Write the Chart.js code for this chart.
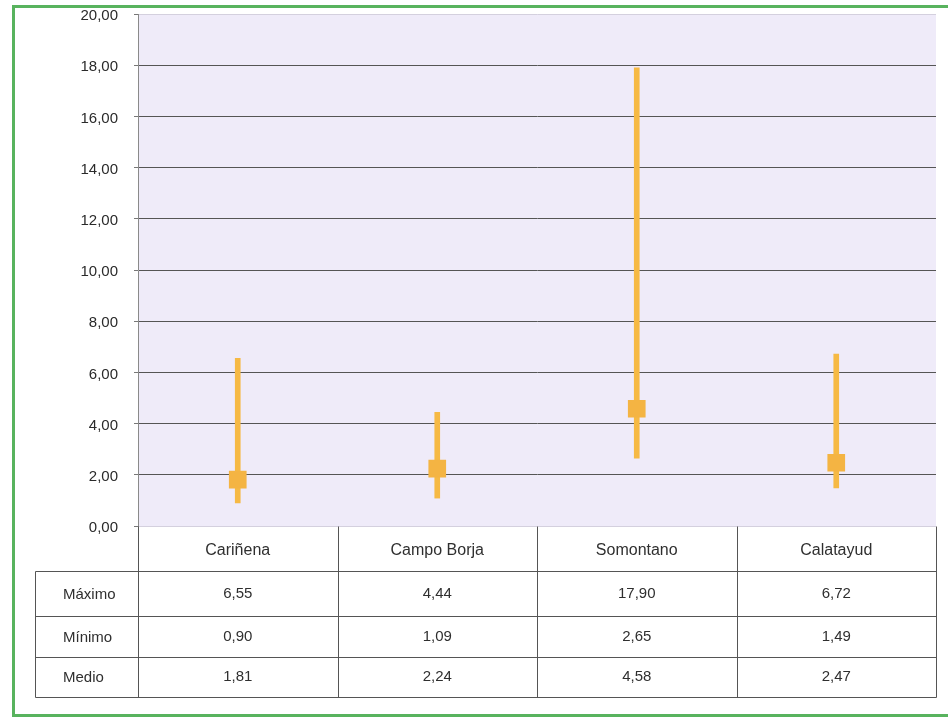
<!DOCTYPE html>
<html>
<head>
<meta charset="utf-8">
<script src="https://cdn.jsdelivr.net/npm/chart.js@4/dist/chart.umd.min.js"></script>
<style>
  html, body { margin: 0; padding: 0; background: #ffffff; overflow: hidden; }
  #frame {
    position: absolute; left: 12px; top: 5px; width: 960px; height: 712px;
    border: 3px solid #58b35e; box-sizing: border-box; pointer-events: none;
  }
  #wrap { position: absolute; left: 0; top: 0; width: 948px; height: 719px; }
</style>
</head>
<body>
<div id="wrap"><canvas id="chart" width="948" height="719"></canvas></div>
<div id="frame"></div>
<script>
// Regions and their values
const categories = ['Cariñena', 'Campo Borja', 'Somontano', 'Calatayud'];
const maximo = [6.55, 4.44, 17.90, 6.72];
const minimo = [0.90, 1.09, 2.65, 1.49];
const medio  = [1.81, 2.24, 4.58, 2.47];
const rowLabels = ['Máximo', 'Mínimo', 'Medio'];
const yTicks = [0, 2, 4, 6, 8, 10, 12, 14, 16, 18, 20];

const FONT = '"Liberation Sans", Arial, sans-serif';
const fmt = v => v.toFixed(2).replace('.', ',');

// Lavender plot background
const plotBackground = {
  id: 'plotBackground',
  beforeDraw(chart) {
    const { ctx, chartArea: a } = chart;
    ctx.save();
    ctx.fillStyle = '#efebf9';
    ctx.fillRect(a.left, a.top, a.right - a.left, a.bottom - a.top);
    ctx.restore();
  }
};

// Data table under the plot, aligned with the category columns
const dataTable = {
  id: 'dataTable',
  afterDraw(chart) {
    const { ctx, chartArea: a } = chart;
    const x = chart.scales.x;
    const n = categories.length;
    const bounds = [];
    for (let i = 0; i <= n; i++) bounds.push(x.getPixelForValue(i - 0.5));
    bounds[0] = a.left; bounds[n] = a.right;
    const labelLeft = 35;
    const headerTop = a.bottom;
    const rows = [571, 616, 657, 697]; // row separators below the header
    ctx.save();
    ctx.strokeStyle = '#555555';
    ctx.lineWidth = 1;
    const line = (x1, y1, x2, y2) => {
      ctx.beginPath();
      ctx.moveTo(Math.round(x1) + 0.5, Math.round(y1) + 0.5);
      ctx.lineTo(Math.round(x2) + 0.5, Math.round(y2) + 0.5);
      ctx.stroke();
    };
    // horizontal rules
    rows.forEach(y => line(labelLeft, y, a.right, y));
    // vertical rules
    line(labelLeft, rows[0], labelLeft, rows[3]);
    bounds.forEach(bx => line(bx, headerTop, bx, rows[3]));

    ctx.fillStyle = '#2f2f2f';
    ctx.textAlign = 'center';
    ctx.textBaseline = 'middle';
    ctx.font = '16px ' + FONT;
    categories.forEach((c, i) => {
      ctx.fillText(c, x.getPixelForValue(i), (headerTop + rows[0]) / 2 + 2);
    });
    ctx.font = '15px ' + FONT;
    const series = [maximo, minimo, medio];
    series.forEach((vals, r) => {
      const cy = (rows[r] + rows[r + 1]) / 2;
      vals.forEach((v, i) => ctx.fillText(fmt(v), x.getPixelForValue(i), cy));
    });
    ctx.textAlign = 'left';
    rowLabels.forEach((lab, r) => {
      const cy = (rows[r] + rows[r + 1]) / 2;
      ctx.fillText(lab, 63, cy + 1);
    });
    ctx.restore();
  }
};

new Chart(document.getElementById('chart'), {
  type: 'bar',
  data: {
    labels: categories,
    datasets: [
      {
        type: 'bar',
        label: 'Rango',
        data: categories.map((c, i) => [minimo[i], maximo[i]]),
        backgroundColor: '#f6b944',
        borderWidth: 0,
        barThickness: 5,
        order: 2
      },
      {
        type: 'line',
        label: 'Medio',
        data: medio,
        showLine: false,
        pointStyle: 'rect',
        pointRadius: 12.5,
        pointHoverRadius: 12.5,
        pointBackgroundColor: '#f4b443',
        pointBorderWidth: 0,
        order: 1
      }
    ]
  },
  options: {
    responsive: false,
    animation: false,
    events: [],
    layout: { autoPadding: false, padding: { left: 0, top: 14, right: 12, bottom: 193 } },
    plugins: { legend: { display: false }, tooltip: { enabled: false } },
    scales: {
      x: { display: false, offset: true },
      y: {
        min: 0,
        max: 20,
        afterFit(s) { s.width = 138; s.paddingTop = 0; s.paddingBottom = 0; },
        afterBuildTicks(s) { s.ticks = yTicks.map(v => ({ value: v })); },
        ticks: {
          padding: 16,
          labelOffset: 2,
          color: '#2a2a2a',
          font: { family: FONT, size: 15 },
          callback: v => fmt(v)
        },
        grid: {
          color: c => (c.tick && (c.tick.value === 20 || c.tick.value === 0)) ? '#d4d0de' : '#555555',
          tickColor: '#777777',
          tickLength: 4,
          lineWidth: 1
        },
        border: { display: true, color: '#8a8a8a' }
      }
    }
  },
  plugins: [plotBackground, dataTable]
});
</script>
</body>
</html>
